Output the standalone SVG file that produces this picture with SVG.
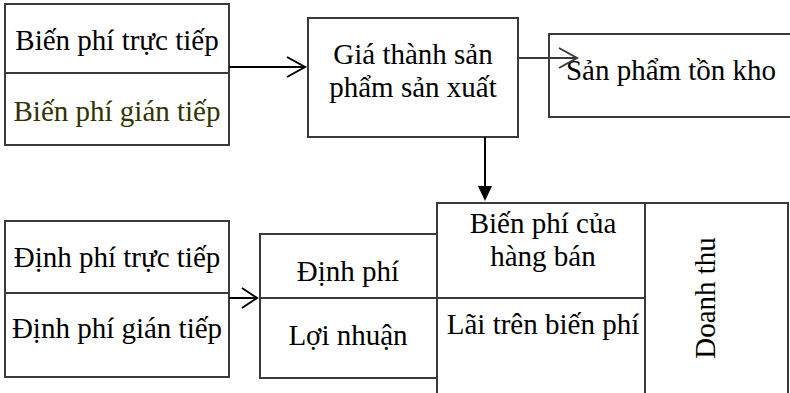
<svg xmlns="http://www.w3.org/2000/svg" width="790" height="393" viewBox="0 0 790 393">
<style>
.b{fill:#fff;stroke:#3a3a3a;stroke-width:2}
.l{fill:none;stroke:#3a3a3a;stroke-width:2}
.c{fill:none;stroke:#000;stroke-width:2}
text{font-family:"Liberation Serif","Times New Roman",serif;font-size:29px;fill:#000;text-anchor:middle}
</style>
<rect width="790" height="393" fill="#fff"/>
<g id="bien-phi">
<rect class="b" x="5" y="4" width="224" height="141"/>
<line class="l" x1="5" y1="73" x2="229" y2="73"/>
<text x="117" y="50">Biến phí trực tiếp</text>
<text x="117" y="121" style="fill:#333300">Biến phí gián tiếp</text>
</g>
<g id="gia-thanh">
<rect class="b" x="308" y="18" width="210" height="119"/>
<text x="413" y="64">Giá thành sản</text>
<text x="413" y="97">phẩm sản xuất</text>
</g>
<g id="ton-kho">
<path class="l" d="M800,34 H549 V117 H800"/>
<text x="671" y="80">Sản phẩm tồn kho</text>
</g>
<g id="dinh-phi-src">
<rect class="b" x="5" y="221" width="224" height="156"/>
<line class="l" x1="5" y1="293" x2="229" y2="293"/>
<text x="117" y="267">Định phí trực tiếp</text>
<text x="117" y="338">Định phí gián tiếp</text>
</g>
<g id="dinh-phi">
<rect class="b" x="260" y="234" width="177" height="144"/>
<line class="l" x1="260" y1="298" x2="437" y2="298"/>
<text x="348" y="281">Định phí</text>
<text x="348" y="345">Lợi nhuận</text>
</g>
<g id="doanh-thu">
<path class="l" d="M437,400 V203 H788 V400"/>
<line class="l" x1="645" y1="203" x2="645" y2="400"/>
<line class="l" x1="437" y1="298" x2="645" y2="298"/>
<text x="543" y="233">Biến phí của</text>
<text x="543" y="266">hàng bán</text>
<text x="543" y="334">Lãi trên biến phí</text>
<text transform="translate(715,298) rotate(-90)">Doanh thu</text>
</g>
<g id="connectors">
<line class="c" x1="229" y1="67" x2="305" y2="67"/>
<polyline class="c" points="287,57 305,67 287,77"/>
<line class="l" x1="518" y1="58" x2="577" y2="58"/>
<polyline class="l" points="559,48 577,58 559,68"/>
<line class="c" x1="485" y1="137" x2="485" y2="188"/>
<polygon points="478,186 492,186 485,201" fill="#000"/>
<line class="c" x1="229" y1="298" x2="257" y2="298"/>
<polyline class="c" points="242,288 257,298 242,308"/>
</g>
</svg>
